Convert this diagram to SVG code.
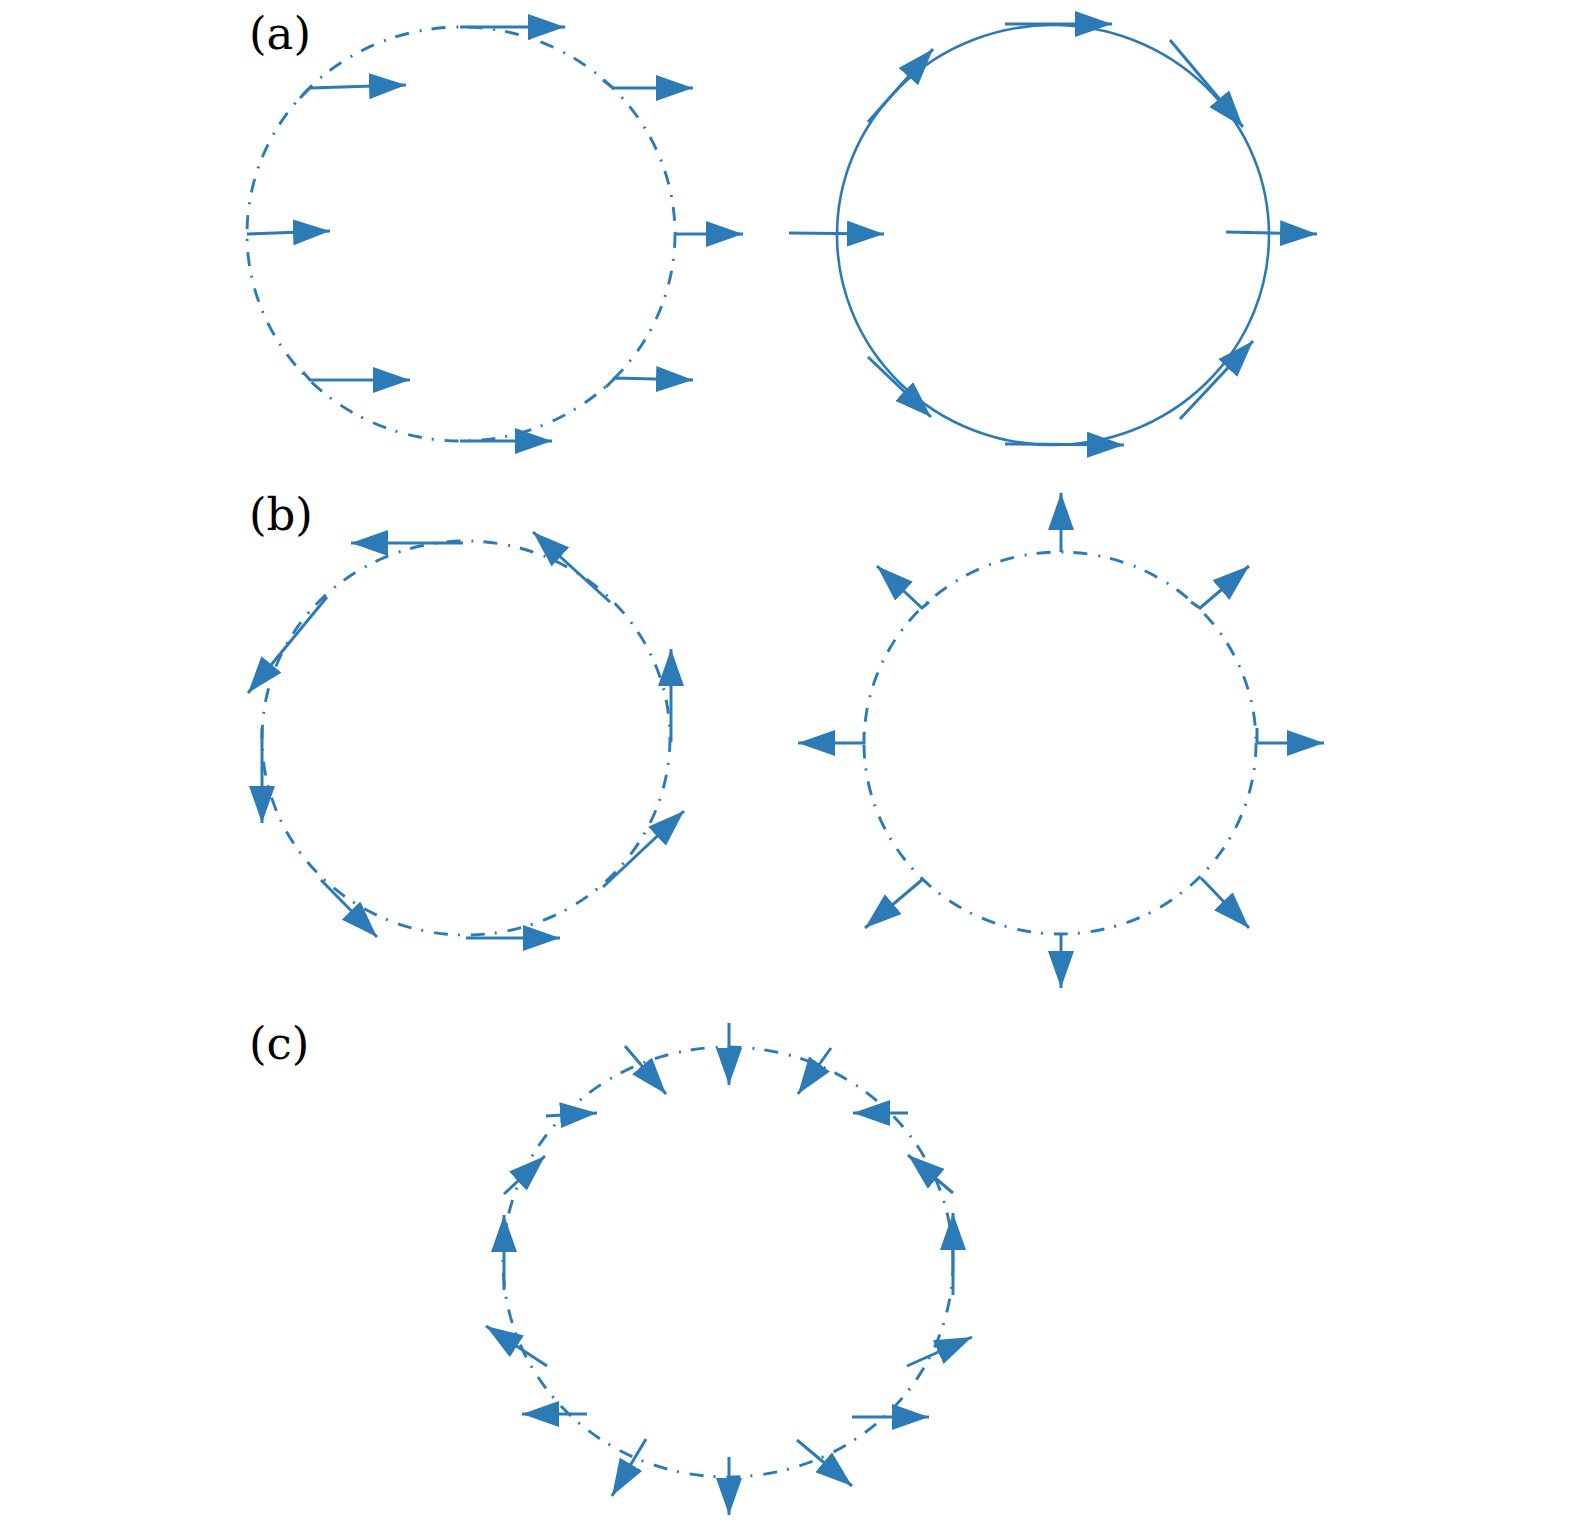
<svg xmlns="http://www.w3.org/2000/svg" width="1575" height="1535" viewBox="0 0 1575 1535">
<style>
.c{fill:none;stroke:#2c7bb6;stroke-width:2.9;stroke-dasharray:14 11 2 10}
.s{fill:none;stroke:#2c7bb6;stroke-width:2.6}
.a{fill:none;stroke:#2c7bb6;stroke-width:3;marker-end:url(#ah)}
.t{font-family:"DejaVu Serif","Liberation Serif",serif;font-size:45px;fill:#000}
</style>
<defs>
<marker id="ah" markerUnits="userSpaceOnUse" markerWidth="37" markerHeight="26" refX="37" refY="13" orient="auto" viewBox="0 0 37 26"><path d="M0,0 L37,13 L0,26 Z" fill="#2c7bb6"/></marker>
</defs>
<rect width="1575" height="1535" fill="#fff"/>
<text class="t" x="249" y="49">(a)</text>
<text class="t" x="249" y="530">(b)</text>
<text class="t" x="249" y="1059">(c)</text>

<g id="panel-a-left">
<ellipse class="c" cx="461" cy="234" rx="214" ry="207"/>
<g id="arrows-a-left">
<path class="a" d="M460,27 L565,27"/>
<path class="a" d="M300,98 L310,88 L406,85"/>
<path class="a" d="M603,80 L613,88 L693,88"/>
<path class="a" d="M247,234 L330,231"/>
<path class="a" d="M675,234 L743,234"/>
<path class="a" d="M303,372 L310,380 L410,380"/>
<path class="a" d="M606,387 L615,378 L693,380"/>
<path class="a" d="M460,441 L552,441"/>
</g>
</g>

<g id="panel-a-right">
<ellipse class="s" cx="1053" cy="235" rx="216" ry="210"/>
<g id="arrows-a-right">
<path class="a" d="M1005,24 L1112,24"/>
<path class="a" d="M1170,40 L1243,127"/>
<path class="a" d="M1226,232 L1317,234"/>
<path class="a" d="M1180,419 L1253,341"/>
<path class="a" d="M1005,444 L1124,445"/>
<path class="a" d="M868,357 L931,417"/>
<path class="a" d="M789,233 L884,234"/>
<path class="a" d="M868,122 L933,49"/>
</g>
</g>

<g id="panel-b-left">
<ellipse class="c" cx="466" cy="738" rx="204" ry="197"/>
<g id="arrows-b-left">
<path class="a" d="M463,543 L351,543"/>
<path class="a" d="M327,597 L248,693"/>
<path class="a" d="M262,728 L262,823"/>
<path class="a" d="M321,880 L377,937"/>
<path class="a" d="M466,938 L560,938"/>
<path class="a" d="M603,887 L684,811"/>
<path class="a" d="M671,742 L671,649"/>
<path class="a" d="M610,602 L533,532"/>
</g>
</g>

<g id="panel-b-right">
<ellipse class="c" cx="1060" cy="743" rx="196" ry="191"/>
<g id="arrows-b-right">
<path class="a" d="M1061,552 L1061,493"/>
<path class="a" d="M1191,602 L1200,608 L1249,566"/>
<path class="a" d="M1257,728 L1257,743 L1324,743"/>
<path class="a" d="M1201,878 L1249,928"/>
<path class="a" d="M1061,934 L1061,988"/>
<path class="a" d="M923,879 L865,928"/>
<path class="a" d="M864,733 L864,743 L798,743"/>
<path class="a" d="M929,602 L922,608 L877,566"/>
</g>
</g>

<g id="panel-c">
<ellipse class="c" cx="728" cy="1262" rx="225" ry="215"/>
<g id="arrows-c">
<path class="a" d="M729,1023 L729,1085"/>
<path class="a" d="M831,1048 L798,1094"/>
<path class="a" d="M908,1113 L853,1113"/>
<path class="a" d="M953,1193 L908,1155"/>
<path class="a" d="M953,1295 L953,1213"/>
<path class="a" d="M907,1366 L972,1337"/>
<path class="a" d="M852,1417 L929,1417"/>
<path class="a" d="M797,1440 L852,1486"/>
<path class="a" d="M729,1457 L729,1515"/>
<path class="a" d="M646,1439 L612,1496"/>
<path class="a" d="M587,1414 L522,1414"/>
<path class="a" d="M547,1366 L486,1326"/>
<path class="a" d="M504,1290 L504,1215"/>
<path class="a" d="M504,1194 L545,1156"/>
<path class="a" d="M546,1116 L597,1113"/>
<path class="a" d="M625,1046 L666,1094"/>
</g>
</g>
</svg>
